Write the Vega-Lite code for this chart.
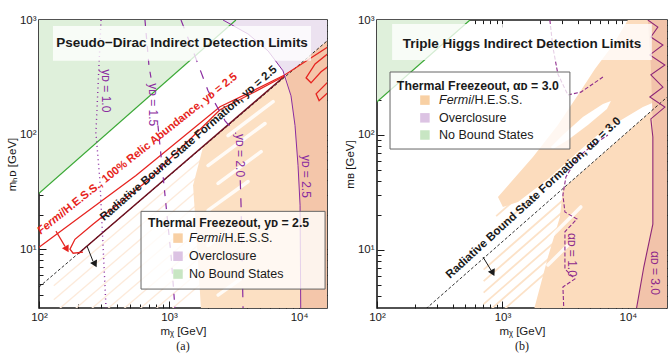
{
  "$schema": "https://vega.github.io/schema/vega-lite/v6.json",
  "background": "white",
  "padding": {"left": 5, "top": 13, "right": 5, "bottom": 5},
  "spacing": 50,
  "bounds": "flush",
  "config": {
    "view": {"stroke": "#1a1a1a", "strokeWidth": 1.6},
    "font": "Liberation Sans",
    "axis": {"grid": false, "domain": false, "tickColor": "#1a1a1a", "tickWidth": 1, "labelFontSize": 11.5, "labelColor": "#1a1a1a", "titleFontSize": 11.5, "titleFontWeight": "normal", "titleColor": "#1a1a1a", "labelFlush": false},
    "title": {"font": "Liberation Serif", "fontSize": 12, "fontWeight": "normal", "color": "#1a1a1a"}
  },
  "datasets": {
    "polyA": [
      {"g": "green", "i": 0, "x": 100, "y": 30.7}, {"g": "green", "i": 1, "x": 3270, "y": 1000}, {"g": "green", "i": 2, "x": 100, "y": 1000},
      {"g": "lav", "i": 0, "x": 2600, "y": 1000}, {"g": "lav", "i": 1, "x": 4055, "y": 755}, {"g": "lav", "i": 2, "x": 5780, "y": 537}, {"g": "lav", "i": 3, "x": 7530, "y": 360}, {"g": "lav", "i": 4, "x": 7943, "y": 326}, {"g": "lav", "i": 5, "x": 17000, "y": 679}, {"g": "lav", "i": 6, "x": 17000, "y": 1000},
      {"g": "lo", "i": 0, "x": 1762, "y": 3}, {"g": "lo", "i": 1, "x": 1531, "y": 36.1}, {"g": "lo", "i": 2, "x": 1828, "y": 78.2}, {"g": "lo", "i": 3, "x": 17000, "y": 679}, {"g": "lo", "i": 4, "x": 17000, "y": 3},
      {"g": "dk", "i": 0, "x": 7943, "y": 326}, {"g": "dk", "i": 1, "x": 8670, "y": 218}, {"g": "dk", "i": 2, "x": 9310, "y": 120}, {"g": "dk", "i": 3, "x": 9820, "y": 53.7}, {"g": "dk", "i": 4, "x": 10180, "y": 24.2}, {"g": "dk", "i": 5, "x": 10300, "y": 3}, {"g": "dk", "i": 6, "x": 17000, "y": 3}, {"g": "dk", "i": 7, "x": 17000, "y": 679}
    ],
    "lineA": [
      {"g": "fs1", "i": 0, "x": 130, "y": 4.79}, {"g": "fs1", "i": 1, "x": 1900, "y": 64.6},
      {"g": "fs2", "i": 0, "x": 130, "y": 3.63}, {"g": "fs2", "i": 1, "x": 1900, "y": 49.0},
      {"g": "fs3", "i": 0, "x": 130, "y": 2.75}, {"g": "fs3", "i": 1, "x": 1900, "y": 37.2},
      {"g": "fs4", "i": 0, "x": 130, "y": 2.09}, {"g": "fs4", "i": 1, "x": 1900, "y": 28.2},
      {"g": "fs5", "i": 0, "x": 130, "y": 1.585}, {"g": "fs5", "i": 1, "x": 1900, "y": 21.4},
      {"g": "fs6", "i": 0, "x": 130, "y": 1.2}, {"g": "fs6", "i": 1, "x": 1900, "y": 16.2},
      {"g": "fs7", "i": 0, "x": 130, "y": 0.91}, {"g": "fs7", "i": 1, "x": 1900, "y": 12.3},
      {"g": "fs8", "i": 0, "x": 130, "y": 0.69}, {"g": "fs8", "i": 1, "x": 1900, "y": 9.33},
      {"g": "fs9", "i": 0, "x": 130, "y": 0.525}, {"g": "fs9", "i": 1, "x": 1900, "y": 7.08},
      {"g": "fs10", "i": 0, "x": 130, "y": 0.398}, {"g": "fs10", "i": 1, "x": 1900, "y": 5.37},
      {"g": "ws1", "i": 0, "x": 1995, "y": 53.7}, {"g": "ws1", "i": 1, "x": 5470, "y": 125},
      {"g": "ws2", "i": 0, "x": 2383, "y": 37.5}, {"g": "ws2", "i": 1, "x": 5105, "y": 71.1},
      {"g": "ws3", "i": 0, "x": 1995, "y": 21.8}, {"g": "ws3", "i": 1, "x": 4055, "y": 39.0},
      {"g": "ws4", "i": 0, "x": 1995, "y": 10.8}, {"g": "ws4", "i": 1, "x": 3105, "y": 15.5},
      {"g": "ws5", "i": 0, "x": 2844, "y": 98}, {"g": "ws5", "i": 1, "x": 6310, "y": 194},
      {"g": "ws6", "i": 0, "x": 2383, "y": 3.98}, {"g": "ws6", "i": 1, "x": 4426, "y": 6.57},
      {"g": "green", "i": 0, "x": 100, "y": 30.7}, {"g": "green", "i": 1, "x": 3270, "y": 1000},
      {"g": "diag", "i": 0, "x": 100, "y": 4.68}, {"g": "diag", "i": 1, "x": 17000, "y": 679},
      {"g": "maroon", "i": 0, "x": 200, "y": 9.14}, {"g": "maroon", "i": 1, "x": 7800, "y": 326},
      {"g": "red1", "i": 0, "x": 100, "y": 10.4}, {"g": "red1", "i": 1, "x": 557, "y": 44.0}, {"g": "red1", "i": 2, "x": 2466, "y": 175}, {"g": "red1", "i": 3, "x": 4426, "y": 241}, {"g": "red1", "i": 4, "x": 7800, "y": 333}, {"g": "red1", "i": 5, "x": 17000, "y": 590},
      {"g": "red2", "i": 0, "x": 218, "y": 9.42}, {"g": "red2", "i": 1, "x": 183, "y": 9.23}, {"g": "red2", "i": 2, "x": 173, "y": 10.0}, {"g": "red2", "i": 3, "x": 189, "y": 12.2}, {"g": "red2", "i": 4, "x": 260, "y": 16.5}, {"g": "red2", "i": 5, "x": 701, "y": 40.6}, {"g": "red2", "i": 6, "x": 2466, "y": 165}, {"g": "red2", "i": 7, "x": 4426, "y": 232}, {"g": "red2", "i": 8, "x": 7800, "y": 326},
      {"g": "red3", "i": 0, "x": 17000, "y": 517}, {"g": "red3", "i": 1, "x": 13280, "y": 414}, {"g": "red3", "i": 2, "x": 11320, "y": 313}, {"g": "red3", "i": 3, "x": 12360, "y": 283}, {"g": "red3", "i": 4, "x": 14760, "y": 353}, {"g": "red3", "i": 5, "x": 17000, "y": 398},
      {"g": "red4", "i": 0, "x": 17000, "y": 295}, {"g": "red4", "i": 1, "x": 13520, "y": 227}, {"g": "red4", "i": 2, "x": 14260, "y": 198}, {"g": "red4", "i": 3, "x": 17000, "y": 237},
      {"g": "c10", "i": 0, "x": 300, "y": 1000}, {"g": "c10", "i": 1, "x": 274, "y": 104}, {"g": "c10", "i": 2, "x": 294, "y": 39.8}, {"g": "c10", "i": 3, "x": 328, "y": 3},
      {"g": "c15a", "i": 0, "x": 653, "y": 1000}, {"g": "c15a", "i": 1, "x": 701, "y": 398}, {"g": "c15a", "i": 2, "x": 740, "y": 277},
      {"g": "c15b", "i": 0, "x": 822, "y": 120}, {"g": "c15b", "i": 1, "x": 948, "y": 24.2}, {"g": "c15b", "i": 2, "x": 1036, "y": 8.87}, {"g": "c15b", "i": 3, "x": 1112, "y": 3},
      {"g": "c20a", "i": 0, "x": 1236, "y": 1000}, {"g": "c20a", "i": 1, "x": 1530, "y": 537}, {"g": "c20a", "i": 2, "x": 1995, "y": 241}, {"g": "c20a", "i": 3, "x": 2697, "y": 132}, {"g": "c20a", "i": 4, "x": 3275, "y": 102},
      {"g": "c20b", "i": 0, "x": 3530, "y": 40}, {"g": "c20b", "i": 1, "x": 3580, "y": 24.2}, {"g": "c20b", "i": 2, "x": 3710, "y": 3},
      {"g": "c25", "i": 0, "x": 2600, "y": 1000}, {"g": "c25", "i": 1, "x": 4055, "y": 755}, {"g": "c25", "i": 2, "x": 5780, "y": 537}, {"g": "c25", "i": 3, "x": 7530, "y": 360}, {"g": "c25", "i": 4, "x": 8670, "y": 218}, {"g": "c25", "i": 5, "x": 9310, "y": 120}, {"g": "c25", "i": 6, "x": 9820, "y": 53.7}, {"g": "c25", "i": 7, "x": 10180, "y": 24.2}, {"g": "c25", "i": 8, "x": 10300, "y": 3}
    ],
    "polyB": [
      {"g": "green", "i": 0, "x": 100, "y": 194}, {"g": "green", "i": 1, "x": 551, "y": 1000}, {"g": "green", "i": 2, "x": 100, "y": 1000},
      {"g": "band", "i": 0, "x": 921, "y": 28.9}, {"g": "band", "i": 1, "x": 1750, "y": 64.4}, {"g": "band", "i": 2, "x": 2766, "y": 122}, {"g": "band", "i": 3, "x": 3999, "y": 223}, {"g": "band", "i": 4, "x": 5460, "y": 375}, {"g": "band", "i": 5, "x": 7590, "y": 606}, {"g": "band", "i": 6, "x": 10000, "y": 1000}, {"g": "band", "i": 7, "x": 21000, "y": 1000}, {"g": "band", "i": 8, "x": 21000, "y": 218}, {"g": "band", "i": 9, "x": 13180, "y": 175}, {"g": "band", "i": 10, "x": 9120, "y": 138}, {"g": "band", "i": 11, "x": 6095, "y": 106}, {"g": "band", "i": 12, "x": 3999, "y": 71.1}, {"g": "band", "i": 13, "x": 2306, "y": 41.4}, {"g": "band", "i": 14, "x": 1330, "y": 26.1}, {"g": "band", "i": 15, "x": 1009, "y": 23.7},
      {"g": "low", "i": 0, "x": 1750, "y": 2.8}, {"g": "low", "i": 1, "x": 2306, "y": 8.69}, {"g": "low", "i": 2, "x": 2871, "y": 19.4}, {"g": "low", "i": 3, "x": 3034, "y": 34}, {"g": "low", "i": 4, "x": 21000, "y": 218}, {"g": "low", "i": 5, "x": 21000, "y": 2.8},
      {"g": "hole", "i": 0, "x": 2432, "y": 78.7}, {"g": "hole", "i": 1, "x": 3034, "y": 100}, {"g": "hole", "i": 2, "x": 4375, "y": 143.5}, {"g": "hole", "i": 3, "x": 6324, "y": 186}, {"g": "hole", "i": 4, "x": 7328, "y": 198}, {"g": "hole", "i": 5, "x": 6808, "y": 168}, {"g": "hole", "i": 6, "x": 4797, "y": 122}, {"g": "hole", "i": 7, "x": 3324, "y": 90.6}, {"g": "hole", "i": 8, "x": 2523, "y": 75.5},
      {"g": "dk", "i": 0, "x": 14420, "y": 1000}, {"g": "dk", "i": 1, "x": 15240, "y": 400}, {"g": "dk", "i": 2, "x": 15810, "y": 117.5}, {"g": "dk", "i": 3, "x": 15810, "y": 16.8}, {"g": "dk", "i": 4, "x": 13390, "y": 7.11}, {"g": "dk", "i": 5, "x": 11580, "y": 2.89}, {"g": "dk", "i": 6, "x": 21000, "y": 2.89}, {"g": "dk", "i": 7, "x": 21000, "y": 1000}
    ],
    "lineB": [
      {"g": "fs1", "i": 0, "x": 708, "y": 6.75}, {"g": "fs1", "i": 1, "x": 3162, "y": 28.2},
      {"g": "fs2", "i": 0, "x": 708, "y": 5.36}, {"g": "fs2", "i": 1, "x": 3162, "y": 22.4},
      {"g": "fs3", "i": 0, "x": 708, "y": 4.26}, {"g": "fs3", "i": 1, "x": 3162, "y": 17.8},
      {"g": "fs4", "i": 0, "x": 708, "y": 3.38}, {"g": "fs4", "i": 1, "x": 3162, "y": 14.1},
      {"g": "fs5", "i": 0, "x": 708, "y": 2.69}, {"g": "fs5", "i": 1, "x": 3162, "y": 11.2},
      {"g": "fs6", "i": 0, "x": 708, "y": 2.13}, {"g": "fs6", "i": 1, "x": 3162, "y": 8.91},
      {"g": "fs7", "i": 0, "x": 891, "y": 15.0}, {"g": "fs7", "i": 1, "x": 1585, "y": 25.9},
      {"g": "fs8", "i": 0, "x": 891, "y": 19.7}, {"g": "fs8", "i": 1, "x": 1585, "y": 34.1},
      {"g": "ws1", "i": 0, "x": 2350, "y": 12.5}, {"g": "ws1", "i": 1, "x": 4217, "y": 23.7},
      {"g": "ws2", "i": 0, "x": 2306, "y": 7.41}, {"g": "ws2", "i": 1, "x": 3324, "y": 11.0},
      {"g": "green", "i": 0, "x": 100, "y": 194}, {"g": "green", "i": 1, "x": 551, "y": 1000},
      {"g": "diag", "i": 0, "x": 200, "y": 2.53}, {"g": "diag", "i": 1, "x": 21000, "y": 218},
      {"g": "c30", "i": 0, "x": 14420, "y": 1000}, {"g": "c30", "i": 1, "x": 17330, "y": 869}, {"g": "c30", "i": 2, "x": 15240, "y": 711}, {"g": "c30", "i": 3, "x": 19020, "y": 606}, {"g": "c30", "i": 4, "x": 14960, "y": 497}, {"g": "c30", "i": 5, "x": 19720, "y": 406}, {"g": "c30", "i": 6, "x": 15240, "y": 333}, {"g": "c30", "i": 7, "x": 19020, "y": 261}, {"g": "c30", "i": 8, "x": 14960, "y": 214}, {"g": "c30", "i": 9, "x": 19720, "y": 175}, {"g": "c30", "i": 10, "x": 15240, "y": 138}, {"g": "c30", "i": 11, "x": 15810, "y": 96.2}, {"g": "c30", "i": 12, "x": 15810, "y": 16.8}, {"g": "c30", "i": 13, "x": 13390, "y": 7.11}, {"g": "c30", "i": 14, "x": 11580, "y": 2.89},
      {"g": "c10", "i": 0, "x": 3090, "y": 2.89}, {"g": "c10", "i": 1, "x": 3034, "y": 4.77}, {"g": "c10", "i": 2, "x": 3781, "y": 5.6}, {"g": "c10", "i": 3, "x": 3148, "y": 6.84}, {"g": "c10", "i": 4, "x": 3148, "y": 14.4}, {"g": "c10", "i": 5, "x": 3924, "y": 18.6}, {"g": "c10", "i": 6, "x": 3148, "y": 21.4}, {"g": "c10", "i": 7, "x": 3034, "y": 30.1}, {"g": "c10", "i": 8, "x": 3206, "y": 43.2}, {"g": "c10", "i": 9, "x": 3999, "y": 64.4}, {"g": "c10", "i": 10, "x": 5260, "y": 81.8}, {"g": "c10", "i": 11, "x": 6934, "y": 100},
      {"g": "oc", "i": 0, "x": 2388, "y": 1000}, {"g": "oc", "i": 1, "x": 2523, "y": 582}, {"g": "oc", "i": 2, "x": 2766, "y": 339}, {"g": "oc", "i": 3, "x": 3324, "y": 223}, {"g": "oc", "i": 4, "x": 4217, "y": 236}, {"g": "oc", "i": 5, "x": 6324, "y": 319}
    ]
  },
  "hconcat": [
    {
      "width": 288,
      "height": 288,
      "title": {"text": "(a)", "orient": "bottom", "offset": 4},
      "resolve": {"axis": {"x": "independent", "y": "independent"}},
      "encoding": {
        "x": {"field": "x", "type": "quantitative", "scale": {"type": "log", "domain": [100, 16400], "nice": false}, "axis": null},
        "y": {"field": "y", "type": "quantitative", "scale": {"type": "log", "domain": [3.07, 1000], "nice": false}, "axis": null}
      },
      "layer": [
        {"data": {"name": "polyA"}, "transform": [{"filter": "datum.g == 'green'"}], "mark": {"type": "line", "fill": "#dff0db", "strokeOpacity": 0, "clip": true}, "encoding": {"order": {"field": "i", "type": "quantitative"}}},
        {"data": {"name": "polyA"}, "transform": [{"filter": "datum.g == 'lav'"}], "mark": {"type": "line", "fill": "#ece2f0", "strokeOpacity": 0, "clip": true}, "encoding": {"order": {"field": "i", "type": "quantitative"}}},
        {"data": {"name": "lineA"}, "transform": [{"filter": "indexof(datum.g, 'fs') == 0"}], "mark": {"type": "line", "color": "#fdeada", "strokeWidth": 1.3, "clip": true}, "encoding": {"detail": {"field": "g"}, "order": {"field": "i", "type": "quantitative"}}},
        {"data": {"name": "polyA"}, "transform": [{"filter": "datum.g == 'lo'"}], "mark": {"type": "line", "fill": "#fce0c3", "strokeOpacity": 0, "clip": true}, "encoding": {"order": {"field": "i", "type": "quantitative"}}},
        {"data": {"name": "polyA"}, "transform": [{"filter": "datum.g == 'dk'"}], "mark": {"type": "line", "fill": "#f4c6aa", "strokeOpacity": 0, "clip": true}, "encoding": {"order": {"field": "i", "type": "quantitative"}}},
        {"data": {"name": "lineA"}, "transform": [{"filter": "indexof(datum.g, 'ws') == 0"}], "mark": {"type": "line", "color": "white", "strokeWidth": 3.5, "opacity": 0.85, "strokeCap": "round", "clip": true}, "encoding": {"detail": {"field": "g"}, "order": {"field": "i", "type": "quantitative"}}},
        {"data": {"name": "lineA"}, "transform": [{"filter": "datum.g == 'green'"}], "mark": {"type": "line", "color": "#3aa835", "strokeWidth": 1.2, "clip": true}, "encoding": {"order": {"field": "i", "type": "quantitative"}}},
        {"data": {"name": "lineA"}, "transform": [{"filter": "datum.g == 'diag'"}], "mark": {"type": "line", "color": "#1a1a1a", "strokeWidth": 0.9, "strokeDash": [3, 2], "clip": true}, "encoding": {"order": {"field": "i", "type": "quantitative"}}},
        {"data": {"name": "lineA"}, "transform": [{"filter": "datum.g == 'maroon'"}], "mark": {"type": "line", "color": "#6e0f1f", "strokeWidth": 1.5, "clip": true}, "encoding": {"order": {"field": "i", "type": "quantitative"}}},
        {"data": {"name": "lineA"}, "transform": [{"filter": "indexof(datum.g, 'red') == 0"}], "mark": {"type": "line", "color": "#e62420", "strokeWidth": 1.3, "clip": true}, "encoding": {"detail": {"field": "g"}, "order": {"field": "i", "type": "quantitative"}}},
        {"data": {"name": "lineA"}, "transform": [{"filter": "datum.g == 'c10'"}], "mark": {"type": "line", "color": "#8a2ca0", "strokeWidth": 1.4, "strokeDash": [1, 3.5], "clip": true}, "encoding": {"order": {"field": "i", "type": "quantitative"}}},
        {"data": {"name": "lineA"}, "transform": [{"filter": "indexof(datum.g, 'c15') == 0"}], "mark": {"type": "line", "color": "#8a2ca0", "strokeWidth": 1.2, "strokeDash": [6, 7], "clip": true}, "encoding": {"detail": {"field": "g"}, "order": {"field": "i", "type": "quantitative"}}},
        {"data": {"name": "lineA"}, "transform": [{"filter": "indexof(datum.g, 'c20') == 0"}], "mark": {"type": "line", "color": "#8a2ca0", "strokeWidth": 1.2, "strokeDash": [9, 9], "clip": true}, "encoding": {"detail": {"field": "g"}, "order": {"field": "i", "type": "quantitative"}}},
        {"data": {"name": "lineA"}, "transform": [{"filter": "datum.g == 'c25'"}], "mark": {"type": "line", "color": "#8a2ca0", "strokeWidth": 1, "clip": true}, "encoding": {"order": {"field": "i", "type": "quantitative"}}},
        {"data": {"values": [{"x": 128, "x2": 12360, "y": 440, "y2": 887}, {"x": 609, "x2": 15850, "y": 4.49, "y2": 21.4}]}, "mark": {"type": "rect", "fill": "white", "fillOpacity": 0.78}, "encoding": {"x2": {"field": "x2"}, "y2": {"field": "y2"}}},
        {"data": {"values": [{"x": 609, "x2": 15850, "y": 4.49, "y2": 21.4}]}, "mark": {"type": "rect", "fillOpacity": 0, "stroke": "#666", "strokeWidth": 1}, "encoding": {"x2": {"field": "x2"}, "y2": {"field": "y2"}}},
        {"data": {"values": [{"x": 135, "y": 14.4, "x2": 158.5, "y2": 10.6}]}, "mark": {"type": "rule", "color": "#e62420", "strokeWidth": 1.2}, "encoding": {"x2": {"field": "x2"}, "y2": {"field": "y2"}}},
        {"data": {"values": [{"x": 164, "y": 10.0}]}, "mark": {"type": "point", "shape": "triangle-down", "filled": true, "size": 60, "angle": -30, "color": "#e62420", "opacity": 1}},
        {"data": {"values": [{"x": 234, "y": 10.66, "x2": 260, "y2": 7.87}]}, "mark": {"type": "rule", "color": "#1a1a1a", "strokeWidth": 1}, "encoding": {"x2": {"field": "x2"}, "y2": {"field": "y2"}}},
        {"data": {"values": [{"x": 270, "y": 7.41}]}, "mark": {"type": "point", "shape": "triangle-down", "filled": true, "size": 60, "angle": -27, "color": "#1a1a1a", "opacity": 1}},
        {"data": {"values": [{"t": "Pseudo−Dirac Indirect Detection Limits", "x": 1259, "y": 631}]}, "mark": {"type": "text", "fontWeight": "bold", "fontSize": 13.5, "color": "#1a1a1a"}, "encoding": {"text": {"field": "t"}}},
        {"data": {"values": [{"t": "Fermi", "x": 157.5, "y": 19.6}]}, "mark": {"type": "text", "fontWeight": "bold", "fontStyle": "italic", "fontSize": 11.2, "color": "#e62420", "align": "right", "baseline": "alphabetic", "angle": -38.5}, "encoding": {"text": {"field": "t"}}},
        {"data": {"values": [{"t": "/H.E.S.S., 100% Relic Abundance, yᴅ = 2.5", "x": 157.5, "y": 19.6}]}, "mark": {"type": "text", "fontWeight": "bold", "fontSize": 11.2, "color": "#e62420", "align": "left", "baseline": "alphabetic", "angle": -38.5}, "encoding": {"text": {"field": "t"}}},
        {"data": {"values": [{"t": "Radiative Bound State Formation, yᴅ = 2.5", "x": 316, "y": 17.5}]}, "mark": {"type": "text", "fontWeight": "bold", "fontSize": 11.5, "color": "#1a1a1a", "align": "left", "baseline": "alphabetic", "angle": -41}, "encoding": {"text": {"field": "t"}}},
        {"data": {"values": [{"t": "yᴅ = 1.0", "x": 328, "y": 241}, {"t": "yᴅ = 1.5", "x": 753, "y": 182}, {"t": "yᴅ = 2.0", "x": 3516, "y": 65.6}, {"t": "yᴅ = 2.5", "x": 11320, "y": 43.2}]}, "mark": {"type": "text", "fontSize": 12, "color": "#8a2ca0", "angle": 90, "align": "center", "baseline": "middle"}, "encoding": {"text": {"field": "t"}}},
        {"data": {"values": [{"t": "Thermal Freezeout, yᴅ = 2.5", "x": 689, "y": 15.5}]}, "mark": {"type": "text", "fontWeight": "bold", "fontSize": 12.3, "color": "#1a1a1a", "align": "left", "baseline": "alphabetic"}, "encoding": {"text": {"field": "t"}}},
        {"data": {"values": [{"k": "Fermi", "x": 1172, "y": 12.5}, {"k": "Over", "x": 1172, "y": 8.69}, {"k": "NoBS", "x": 1172, "y": 6.07}]}, "mark": {"type": "square", "size": 90, "opacity": 1}, "encoding": {"color": {"field": "k", "type": "nominal", "scale": {"domain": ["Fermi", "Over", "NoBS"], "range": ["#f8d0a4", "#dcc3e3", "#c8e6c3"]}, "legend": null}}},
        {"data": {"values": [{"t": "Fermi", "x": 2512, "y": 12.5}]}, "mark": {"type": "text", "fontStyle": "italic", "fontSize": 12.5, "color": "#1a1a1a", "align": "right", "baseline": "middle"}, "encoding": {"text": {"field": "t"}}},
        {"data": {"values": [{"t": "/H.E.S.S.", "x": 2512, "y": 12.5}, {"t": "Overclosure", "x": 1425, "y": 8.69}, {"t": "No Bound States", "x": 1425, "y": 6.07}]}, "mark": {"type": "text", "fontSize": 12.5, "color": "#1a1a1a", "align": "left", "baseline": "middle"}, "encoding": {"text": {"field": "t"}}},
        {"data": {"values": [{"x": 100, "y": 10}]}, "mark": {"type": "point", "opacity": 0},
          "encoding": {
            "x": {"field": "x", "type": "quantitative", "scale": {"type": "log", "domain": [100, 16400], "nice": false}, "axis": {"orient": "bottom", "title": "mᵪ [GeV]", "values": [100, 200, 300, 400, 500, 600, 700, 800, 900, 1000, 2000, 3000, 4000, 5000, 6000, 7000, 8000, 9000, 10000], "labelExpr": "datum.value == 100 ? '10²' : datum.value == 1000 ? '10³' : datum.value == 10000 ? '10⁴' : ''", "tickSize": {"condition": {"test": "datum.value == 100 || datum.value == 1000 || datum.value == 10000", "value": -7}, "value": -4}, "labelPadding": 10, "titlePadding": 3}},
            "y": {"field": "y", "type": "quantitative", "scale": {"type": "log", "domain": [3.07, 1000], "nice": false}, "axis": {"orient": "left", "title": "mₕᴅ [GeV]", "values": [4, 5, 6, 7, 8, 9, 10, 20, 30, 40, 50, 60, 70, 80, 90, 100, 200, 300, 400, 500, 600, 700, 800, 900, 1000], "labelExpr": "datum.value == 10 ? '10¹' : datum.value == 100 ? '10²' : datum.value == 1000 ? '10³' : ''", "tickSize": {"condition": {"test": "datum.value == 10 || datum.value == 100 || datum.value == 1000", "value": -7}, "value": -4}, "labelPadding": 10, "titlePadding": 2}}
          }},
        {"data": {"values": [{"x": 100, "y": 10}]}, "mark": {"type": "point", "opacity": 0},
          "encoding": {
            "x": {"field": "x", "type": "quantitative", "scale": {"type": "log", "domain": [100, 16400], "nice": false}, "axis": {"orient": "top", "title": null, "labels": false, "values": [100, 200, 300, 400, 500, 600, 700, 800, 900, 1000, 2000, 3000, 4000, 5000, 6000, 7000, 8000, 9000, 10000], "tickSize": {"condition": {"test": "datum.value == 100 || datum.value == 1000 || datum.value == 10000", "value": -7}, "value": -4}}},
            "y": {"field": "y", "type": "quantitative", "scale": {"type": "log", "domain": [3.07, 1000], "nice": false}, "axis": {"orient": "right", "title": null, "labels": false, "values": [4, 5, 6, 7, 8, 9, 10, 20, 30, 40, 50, 60, 70, 80, 90, 100, 200, 300, 400, 500, 600, 700, 800, 900, 1000], "tickSize": {"condition": {"test": "datum.value == 10 || datum.value == 100 || datum.value == 1000", "value": -7}, "value": -4}}}
          }}
      ]
    },
    {
      "width": 290,
      "height": 288,
      "title": {"text": "(b)", "orient": "bottom", "offset": 4},
      "resolve": {"axis": {"x": "independent", "y": "independent"}},
      "encoding": {
        "x": {"field": "x", "type": "quantitative", "scale": {"type": "log", "domain": [100, 20500], "nice": false}, "axis": null},
        "y": {"field": "y", "type": "quantitative", "scale": {"type": "log", "domain": [3.13, 1000], "nice": false}, "axis": null}
      },
      "layer": [
        {"data": {"name": "polyB"}, "transform": [{"filter": "datum.g == 'green'"}], "mark": {"type": "line", "fill": "#dff0db", "strokeOpacity": 0, "clip": true}, "encoding": {"order": {"field": "i", "type": "quantitative"}}},
        {"data": {"name": "lineB"}, "transform": [{"filter": "indexof(datum.g, 'fs') == 0"}], "mark": {"type": "line", "color": "#fce2c8", "strokeWidth": 1.8, "clip": true}, "encoding": {"detail": {"field": "g"}, "order": {"field": "i", "type": "quantitative"}}},
        {"data": {"name": "polyB"}, "transform": [{"filter": "datum.g == 'band'"}], "mark": {"type": "line", "fill": "#fcdcbd", "strokeOpacity": 0, "clip": true}, "encoding": {"order": {"field": "i", "type": "quantitative"}}},
        {"data": {"name": "polyB"}, "transform": [{"filter": "datum.g == 'low'"}], "mark": {"type": "line", "fill": "#fcdcbd", "strokeOpacity": 0, "clip": true}, "encoding": {"order": {"field": "i", "type": "quantitative"}}},
        {"data": {"name": "polyB"}, "transform": [{"filter": "datum.g == 'hole'"}], "mark": {"type": "line", "fill": "white", "strokeOpacity": 0, "clip": true}, "encoding": {"order": {"field": "i", "type": "quantitative"}}},
        {"data": {"name": "polyB"}, "transform": [{"filter": "datum.g == 'dk'"}], "mark": {"type": "line", "fill": "#f2c3aa", "strokeOpacity": 0, "clip": true}, "encoding": {"order": {"field": "i", "type": "quantitative"}}},
        {"data": {"name": "lineB"}, "transform": [{"filter": "indexof(datum.g, 'ws') == 0"}], "mark": {"type": "line", "color": "white", "strokeWidth": 3.5, "opacity": 0.85, "strokeCap": "round", "clip": true}, "encoding": {"detail": {"field": "g"}, "order": {"field": "i", "type": "quantitative"}}},
        {"data": {"name": "lineB"}, "transform": [{"filter": "datum.g == 'green'"}], "mark": {"type": "line", "color": "#3aa835", "strokeWidth": 1.2, "clip": true}, "encoding": {"order": {"field": "i", "type": "quantitative"}}},
        {"data": {"name": "lineB"}, "transform": [{"filter": "datum.g == 'diag'"}], "mark": {"type": "line", "color": "#1a1a1a", "strokeWidth": 0.9, "strokeDash": [3, 2], "clip": true}, "encoding": {"order": {"field": "i", "type": "quantitative"}}},
        {"data": {"name": "lineB"}, "transform": [{"filter": "datum.g == 'c30'"}], "mark": {"type": "line", "color": "#8e2778", "strokeWidth": 1.1, "clip": true}, "encoding": {"order": {"field": "i", "type": "quantitative"}}},
        {"data": {"name": "lineB"}, "transform": [{"filter": "datum.g == 'c10' || datum.g == 'oc'"}], "mark": {"type": "line", "color": "#8e2a8c", "strokeWidth": 1.1, "strokeDash": [4, 2], "clip": true}, "encoding": {"detail": {"field": "g"}, "order": {"field": "i", "type": "quantitative"}}},
        {"data": {"values": [{"x": 132, "x2": 15520, "y": 449, "y2": 923}, {"x": 127, "x2": 3450, "y": 75.5, "y2": 353}]}, "mark": {"type": "rect", "fill": "white", "fillOpacity": 0.78}, "encoding": {"x2": {"field": "x2"}, "y2": {"field": "y2"}}},
        {"data": {"values": [{"x": 127, "x2": 3450, "y": 75.5, "y2": 353}]}, "mark": {"type": "rect", "fillOpacity": 0, "stroke": "#666", "strokeWidth": 1}, "encoding": {"x2": {"field": "x2"}, "y2": {"field": "y2"}}},
        {"data": {"values": [{"x": 700, "y": 8.69, "x2": 809, "y2": 6.70}]}, "mark": {"type": "rule", "color": "#1a1a1a", "strokeWidth": 1}, "encoding": {"x2": {"field": "x2"}, "y2": {"field": "y2"}}},
        {"data": {"values": [{"x": 839, "y": 6.31}]}, "mark": {"type": "point", "shape": "triangle-down", "filled": true, "size": 60, "angle": -27, "color": "#1a1a1a", "opacity": 1}},
        {"data": {"values": [{"t": "Triple Higgs Indirect Detection Limits", "x": 1429, "y": 618}]}, "mark": {"type": "text", "fontWeight": "bold", "fontSize": 13.5, "color": "#1a1a1a"}, "encoding": {"text": {"field": "t"}}},
        {"data": {"values": [{"t": "Radiative Bound State Formation, αᴅ = 3.0", "x": 382, "y": 5.6}]}, "mark": {"type": "text", "fontWeight": "bold", "fontSize": 11.6, "color": "#1a1a1a", "align": "left", "baseline": "alphabetic", "angle": -42.5}, "encoding": {"text": {"field": "t"}}},
        {"data": {"values": [{"t": "αᴅ = 1.0", "x": 3580, "y": 9.06}, {"t": "αᴅ = 3.0", "x": 16400, "y": 6.31}]}, "mark": {"type": "text", "fontSize": 12, "color": "#8e2a8c", "angle": 90, "align": "center", "baseline": "middle"}, "encoding": {"text": {"field": "t"}}},
        {"data": {"values": [{"t": "Thermal Freezeout, αᴅ = 3.0", "x": 144, "y": 246}]}, "mark": {"type": "text", "fontWeight": "bold", "fontSize": 12.3, "color": "#1a1a1a", "align": "left", "baseline": "alphabetic"}, "encoding": {"text": {"field": "t"}}},
        {"data": {"values": [{"k": "Fermi", "x": 241, "y": 201}, {"k": "Over", "x": 241, "y": 141}, {"k": "NoBS", "x": 241, "y": 100}]}, "mark": {"type": "square", "size": 90, "opacity": 1}, "encoding": {"color": {"field": "k", "type": "nominal", "scale": {"domain": ["Fermi", "Over", "NoBS"], "range": ["#f8d0a4", "#dcc3e3", "#c8e6c3"]}, "legend": null}}},
        {"data": {"values": [{"t": "Fermi", "x": 561, "y": 201}]}, "mark": {"type": "text", "fontStyle": "italic", "fontSize": 12.5, "color": "#1a1a1a", "align": "right", "baseline": "middle"}, "encoding": {"text": {"field": "t"}}},
        {"data": {"values": [{"t": "/H.E.S.S.", "x": 561, "y": 201}, {"t": "Overclosure", "x": 312, "y": 141}, {"t": "No Bound States", "x": 312, "y": 100}]}, "mark": {"type": "text", "fontSize": 12.5, "color": "#1a1a1a", "align": "left", "baseline": "middle"}, "encoding": {"text": {"field": "t"}}},
        {"data": {"values": [{"x": 100, "y": 10}]}, "mark": {"type": "point", "opacity": 0},
          "encoding": {
            "x": {"field": "x", "type": "quantitative", "scale": {"type": "log", "domain": [100, 20500], "nice": false}, "axis": {"orient": "bottom", "title": "mᵪ [GeV]", "values": [100, 200, 300, 400, 500, 600, 700, 800, 900, 1000, 2000, 3000, 4000, 5000, 6000, 7000, 8000, 9000, 10000, 20000], "labelExpr": "datum.value == 100 ? '10²' : datum.value == 1000 ? '10³' : datum.value == 10000 ? '10⁴' : ''", "tickSize": {"condition": {"test": "datum.value == 100 || datum.value == 1000 || datum.value == 10000", "value": -7}, "value": -4}, "labelPadding": 10, "titlePadding": 3}},
            "y": {"field": "y", "type": "quantitative", "scale": {"type": "log", "domain": [3.13, 1000], "nice": false}, "axis": {"orient": "left", "title": "mʙ [GeV]", "values": [4, 5, 6, 7, 8, 9, 10, 20, 30, 40, 50, 60, 70, 80, 90, 100, 200, 300, 400, 500, 600, 700, 800, 900, 1000], "labelExpr": "datum.value == 10 ? '10¹' : datum.value == 100 ? '10²' : datum.value == 1000 ? '10³' : ''", "tickSize": {"condition": {"test": "datum.value == 10 || datum.value == 100 || datum.value == 1000", "value": -7}, "value": -4}, "labelPadding": 10, "titlePadding": 2}}
          }},
        {"data": {"values": [{"x": 100, "y": 10}]}, "mark": {"type": "point", "opacity": 0},
          "encoding": {
            "x": {"field": "x", "type": "quantitative", "scale": {"type": "log", "domain": [100, 20500], "nice": false}, "axis": {"orient": "top", "title": null, "labels": false, "values": [100, 200, 300, 400, 500, 600, 700, 800, 900, 1000, 2000, 3000, 4000, 5000, 6000, 7000, 8000, 9000, 10000, 20000], "tickSize": {"condition": {"test": "datum.value == 100 || datum.value == 1000 || datum.value == 10000", "value": -7}, "value": -4}}},
            "y": {"field": "y", "type": "quantitative", "scale": {"type": "log", "domain": [3.13, 1000], "nice": false}, "axis": {"orient": "right", "title": null, "labels": false, "values": [4, 5, 6, 7, 8, 9, 10, 20, 30, 40, 50, 60, 70, 80, 90, 100, 200, 300, 400, 500, 600, 700, 800, 900, 1000], "tickSize": {"condition": {"test": "datum.value == 10 || datum.value == 100 || datum.value == 1000", "value": -7}, "value": -4}}}
          }}
      ]
    }
  ]
}
